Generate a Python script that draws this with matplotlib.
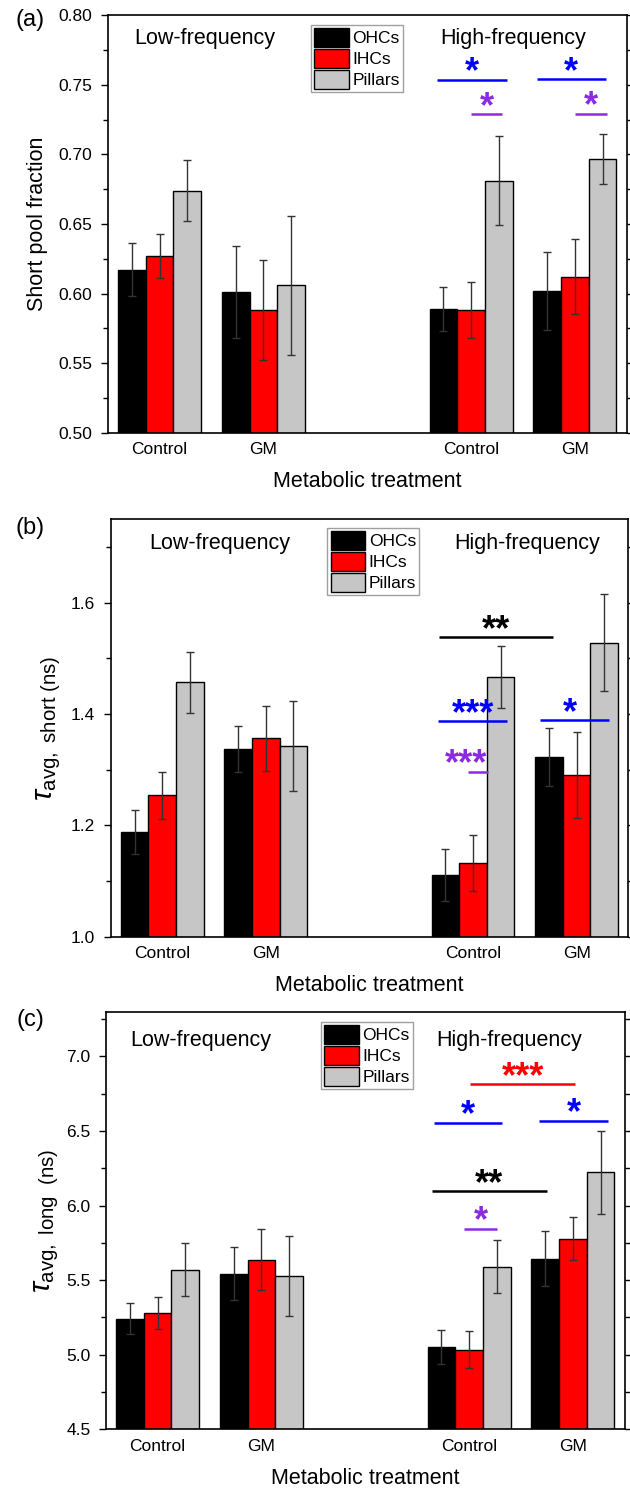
import matplotlib
matplotlib.use("Agg")
import matplotlib.pyplot as plt
from matplotlib.patches import Patch
from matplotlib.ticker import MultipleLocator, FormatStrFormatter
import numpy as np

plt.rcParams['font.family'] = ['Liberation Sans', 'DejaVu Sans']
plt.rcParams['mathtext.fontset'] = 'custom'
plt.rcParams['mathtext.rm'] = 'Liberation Sans'
plt.rcParams['mathtext.it'] = 'Liberation Sans:italic'

# groups: low-freq Control, low-freq GM, high-freq Control, high-freq GM
group_pos = [1, 2, 4, 5]
group_labels = ["Control", "GM", "Control", "GM"]
cells = ["OHCs", "IHCs", "Pillars"]

# (a) short pool fraction
frac_ohc = [0.617, 0.601, 0.589, 0.602]
frac_ihc = [0.627, 0.588, 0.588, 0.612]
frac_pil = [0.674, 0.606, 0.681, 0.697]
frac_ohc_err = [0.019, 0.033, 0.016, 0.028]
frac_ihc_err = [0.016, 0.036, 0.020, 0.027]
frac_pil_err = [0.022, 0.050, 0.032, 0.018]

# (b) tau avg short (ns)
ts_ohc = [1.188, 1.337, 1.111, 1.322]
ts_ihc = [1.254, 1.356, 1.132, 1.290]
ts_pil = [1.457, 1.343, 1.466, 1.528]
ts_ohc_err = [0.040, 0.041, 0.047, 0.052]
ts_ihc_err = [0.042, 0.058, 0.050, 0.077]
ts_pil_err = [0.055, 0.081, 0.056, 0.087]

# (c) tau avg long (ns)
tl_ohc = [5.241, 5.542, 5.049, 5.643]
tl_ihc = [5.277, 5.636, 5.033, 5.779]
tl_pil = [5.571, 5.529, 5.589, 6.223]
tl_ohc_err = [0.105, 0.177, 0.114, 0.185]
tl_ihc_err = [0.108, 0.205, 0.124, 0.147]
tl_pil_err = [0.178, 0.269, 0.177, 0.279]

# significance marks: (x start, x end, y, stars, colour)
sig_a = [(3.67, 4.35, 0.7538, "*", "#0000ff"),
         (4.63, 5.30, 0.7540, "*", "#0000ff"),
         (4.00, 4.30, 0.7288, "*", "#8a2be2"),
         (5.00, 5.31, 0.7293, "*", "#8a2be2")]
sig_b = [(3.67, 4.77, 1.538, "**", "black"),
         (3.66, 4.33, 1.3875, "***", "#0000ff"),
         (4.65, 5.31, 1.389, "*", "#0000ff"),
         (3.95, 4.14, 1.296, "***", "#8a2be2")]
sig_c = [(4.01, 5.02, 6.815, "***", "#ff0000"),
         (3.66, 4.32, 6.556, "*", "#0000ff"),
         (4.67, 5.34, 6.569, "*", "#0000ff"),
         (3.64, 4.75, 6.096, "**", "black"),
         (3.95, 4.27, 5.844, "*", "#8a2be2")]
# star x override for the purple *** in (b), which sits left of its line
star_x_b = [None, 4.0, 4.94, 3.93]

colors = ["black", "#ff0000", "#c6c6c6"]
w = 0.8 / 3

fig = plt.figure(figsize=(6.3, 14.89), dpi=100)

panels = [
    dict(rect=[0.171, 0.7094, 0.824, 0.2803], data=(frac_ohc, frac_ihc, frac_pil),
         err=(frac_ohc_err, frac_ihc_err, frac_pil_err), ylim=(0.50, 0.80),
         major=0.05, minor=0.025, fmt='%.2f', ylabel="Short pool fraction", ylsize=15.5,
         sig=sig_a, starx=[None] * 4, tag="(a)", tagy=0.9866,
         leg=(0.392, 0.977), txty=0.945, lowx=0.187, highx=0.781, ylx=-0.136),
    dict(rect=[0.1754, 0.3709, 0.822, 0.2805], data=(ts_ohc, ts_ihc, ts_pil),
         err=(ts_ohc_err, ts_ihc_err, ts_pil_err), ylim=(1.0, 1.75),
         major=0.2, minor=0.1, fmt='%.1f',
         ylabel=r'$\tau_{\mathrm{avg,\ short\ (ns)}}$', ylsize=21,
         sig=sig_b, starx=star_x_b, tag="(b)", tagy=0.6454,
         leg=(0.419, 0.979), txty=0.942, lowx=0.211, highx=0.804, ylx=-0.119),
    dict(rect=[0.1678, 0.0401, 0.824, 0.2805], data=(tl_ohc, tl_ihc, tl_pil),
         err=(tl_ohc_err, tl_ihc_err, tl_pil_err), ylim=(4.5, 7.3),
         major=0.5, minor=0.25, fmt='%.1f',
         ylabel=r'$\tau_{\mathrm{avg,\ long\ \ (ns)}}$', ylsize=21,
         sig=sig_c, starx=[None] * 5, tag="(c)", tagy=0.315,
         leg=(0.415, 0.976), txty=0.932, lowx=0.183, highx=0.777, ylx=-0.113),
]

x = np.array(group_pos, dtype=float)

for p in panels:
    ax = fig.add_axes(p["rect"])
    for i, (vals, errs) in enumerate(zip(p["data"], p["err"])):
        ax.bar(x + (i - 1) * w, vals, w, color=colors[i], edgecolor="black",
               linewidth=1, yerr=errs, zorder=2,
               error_kw=dict(ecolor="#333333", elinewidth=1, capsize=3, capthick=1))
    ax.set_xlim(0.5, 5.5)
    ax.set_ylim(*p["ylim"])
    ax.set_xticks(group_pos)
    ax.set_xticklabels(group_labels, fontsize=12.5)
    ax.tick_params(axis='x', length=0, pad=7)
    ax.yaxis.set_major_locator(MultipleLocator(p["major"]))
    ax.yaxis.set_minor_locator(MultipleLocator(p["minor"]))
    ax.yaxis.set_major_formatter(FormatStrFormatter(p["fmt"]))
    ax.tick_params(axis='y', which='both', left=True, right=True, width=1)
    ax.tick_params(axis='y', which='major', length=5, labelsize=12.5, pad=6)
    ax.tick_params(axis='y', which='minor', length=3.5)
    for sp in ax.spines.values():
        sp.set_linewidth(1.2)
    ax.set_xlabel("Metabolic treatment", fontsize=15.5, va='center')
    ax.xaxis.set_label_coords(0.5, -0.117)
    ax.set_ylabel(p["ylabel"], fontsize=p["ylsize"], va='center')
    ax.yaxis.set_label_coords(p["ylx"], 0.5)

    ax.text(p["lowx"], p["txty"], "Low-frequency", transform=ax.transAxes,
            fontsize=15.5, ha='center', va='center')
    ax.text(p["highx"], p["txty"], "High-frequency", transform=ax.transAxes,
            fontsize=15.5, ha='center', va='center')

    handles = [Patch(facecolor=c, edgecolor="black", linewidth=1) for c in colors]
    leg = ax.legend(handles, cells, loc='upper left', bbox_to_anchor=p["leg"],
                    fontsize=12.5, frameon=True, fancybox=False, borderaxespad=0,
                    handlelength=2.0, handleheight=1.3, labelspacing=0.12,
                    handletextpad=0.2, borderpad=0.18)
    leg.get_frame().set_edgecolor("#888888")
    leg.get_frame().set_linewidth(1)

    for (x1, x2, yv, stars, col), sx in zip(p["sig"], p["starx"]):
        ax.plot([x1, x2], [yv, yv], color=col, lw=1.8, solid_capstyle='butt', zorder=3)
        xs = (x1 + x2) / 2 if sx is None else sx
        ax.annotate(stars, (xs, yv), xytext=(0, -2), textcoords='offset points',
                    ha='center', va='baseline', color=col, fontsize=26,
                    fontweight='bold', zorder=4)

    fig.text(0.048, p["tagy"], p["tag"], fontsize=17, ha='center', va='center')

fig.savefig("out.png", dpi=100)
